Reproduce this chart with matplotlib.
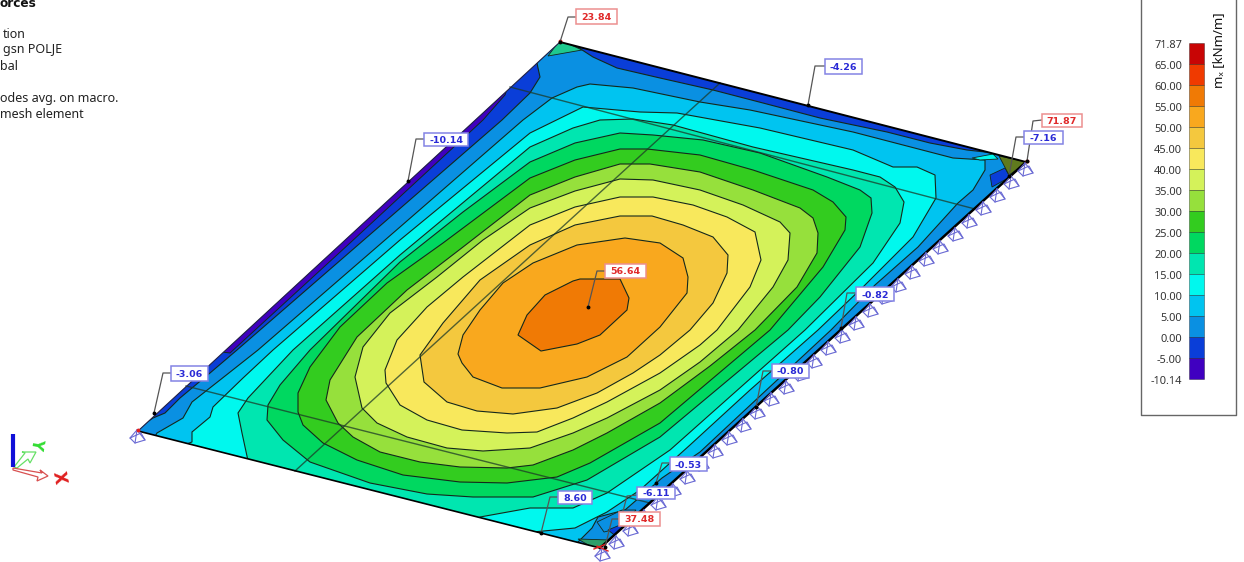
#!/usr/bin/env python3

import matplotlib
matplotlib.use("Agg")
import matplotlib.pyplot as plt
from matplotlib.patches import Polygon, Rectangle

plt.rcParams["font.family"] = ["Noto Sans", "DejaVu Sans"]

# plate outline, picture pixels
plate = [(138, 431), (560, 42), (1026, 162), (600, 548)]

legend_labels = ["71.87", "65.00", "60.00", "55.00", "50.00", "45.00", "40.00", "35.00", "30.00",
                 "25.00", "20.00", "15.00", "10.00", "5.00", "0.00", "-5.00", "-10.14"]
legend_colors = ["#c80505", "#f03a00", "#f07a05", "#f9a81e", "#f4c83e", "#f8e85c", "#d4f25a", "#96e03c",
                 "#33cc1f", "#00d860", "#00e6b0", "#00f8ee", "#00c4f0", "#0a90e2", "#0a3ed8", "#4000c0"]

# contour rings, outermost first (points beyond the plate get clipped)
ring_m5 = [(205, 350), (230, 353), (350, 243), (483, 120), (505, 95), (510, 80), (480, 90)]
ring_0 = [(138, 428), (153, 418), (165, 413), (180, 398), (210, 373), (237, 350), (502, 120), (530, 93), (540, 77),
          (538, 68), (537, 63), (530, 40), (570, 30), (576, 46), (593, 57), (617, 68), (660, 78), (713, 90),
          (763, 103), (820, 118), (887, 132), (930, 143), (967, 150), (985, 152), (1040, 150), (1040, 600),
          (100, 600), (120, 440)]
ring_5 = [(157, 433), (183, 418), (192, 402), (220, 380), (258, 350), (400, 227), (523, 120), (552, 98), (577, 87),
          (590, 84), (633, 88), (700, 102), (750, 110), (853, 132), (953, 158), (985, 160), (985, 170), (973, 190),
          (958, 203), (918, 247), (875, 285), (831, 330), (760, 396), (700, 452), (662, 478), (640, 497),
          (625, 510), (598, 517), (592, 528), (578, 542), (570, 560), (150, 445)]
ring_10 = [(192, 442), (192, 432), (210, 417), (213, 407), (243, 378), (273, 350), (400, 240), (530, 133),
           (583, 107), (640, 112), (677, 113), (760, 128), (853, 150), (893, 167), (917, 167), (935, 175),
           (936, 198), (913, 237), (863, 287), (818, 330), (750, 390), (690, 445), (640, 490), (607, 512),
           (575, 528), (533, 532), (520, 545), (170, 450)]
ring_15 = [(238, 413), (248, 398), (293, 350), (400, 255), (530, 147), (573, 128), (600, 120), (633, 119),
           (673, 125), (753, 147), (853, 170), (880, 177), (895, 187), (904, 202), (900, 223), (873, 263),
           (805, 330), (670, 450), (607, 493), (573, 508), (530, 508), (480, 517), (470, 530), (250, 470),
           (242, 433)]
ring_20 = [(267, 420), (268, 405), (280, 385), (310, 350), (400, 262), (463, 212), (530, 162), (575, 143),
           (620, 133), (653, 135), (703, 140), (760, 153), (827, 177), (860, 190), (871, 198), (872, 213),
           (860, 247), (820, 297), (788, 330), (660, 437), (587, 480), (533, 497), (473, 497), (427, 494),
           (370, 483), (310, 462), (283, 440)]
ring_25 = [(298, 412), (298, 393), (310, 367), (340, 327), (387, 283), (443, 243), (530, 178), (575, 160),
           (620, 149), (647, 149), (700, 155), (753, 170), (813, 190), (833, 202), (846, 217), (845, 230),
           (823, 267), (770, 330), (660, 423), (590, 463), (557, 477), (507, 483), (460, 482), (403, 475),
           (357, 460), (323, 443), (303, 425)]
ring_30 = [(326, 400), (330, 380), (357, 337), (407, 290), (463, 247), (530, 195), (575, 177), (620, 164),
           (650, 164), (700, 172), (753, 190), (800, 208), (813, 218), (818, 233), (817, 253), (797, 287),
           (755, 330), (710, 366), (660, 403), (607, 433), (573, 450), (533, 465), (507, 468), (460, 467),
           (420, 462), (380, 452), (353, 437), (338, 423)]
ring_35 = [(355, 377), (363, 347), (390, 313), (437, 277), (483, 240), (530, 208), (575, 191), (620, 179),
           (653, 180), (700, 190), (743, 205), (780, 222), (790, 233), (788, 260), (773, 287), (738, 330),
           (700, 362), (660, 390), (607, 418), (573, 433), (530, 448), (483, 451), (447, 448), (407, 437),
           (377, 423), (362, 408)]
ring_40 = [(385, 370), (397, 340), (427, 307), (463, 277), (530, 225), (575, 207), (620, 197), (653, 197),
           (693, 205), (727, 217), (755, 232), (761, 260), (750, 287), (717, 330), (700, 345), (660, 373),
           (607, 402), (573, 418), (537, 432), (507, 433), (462, 430), (427, 420), (400, 405), (386, 383)]
ring_45 = [(420, 355), (443, 323), (480, 280), (530, 245), (575, 225), (620, 216), (652, 216), (683, 225),
           (713, 237), (728, 255), (727, 273), (713, 303), (690, 330), (660, 355), (633, 373), (597, 393),
           (557, 408), (513, 414), (477, 411), (447, 402), (424, 382)]
ring_50 = [(458, 354), (463, 335), (480, 310), (503, 283), (533, 263), (577, 245), (625, 238), (660, 243),
           (683, 258), (688, 277), (687, 293), (660, 327), (627, 357), (587, 377), (540, 388), (502, 388),
           (473, 377), (462, 363)]
ring_55 = [(518, 335), (527, 315), (545, 295), (573, 281), (580, 279), (620, 279), (629, 298), (627, 310),
           (600, 335), (577, 344), (541, 351)]

# small patches in the corners
patch_sliver = [(972, 158), (993, 154), (998, 159), (980, 160)]
patch_blue_tr = [(990, 175), (1005, 168), (1010, 177), (992, 187)]
patch_olive_tr = [(999, 156), (1028, 162), (1009, 175)]
patch_teal_top = [(548, 56), (560, 40), (582, 50)]
patch_blue_br = [(608, 530), (620, 525), (630, 526), (617, 537)]
patch_mid_br = [(597, 522), (622, 510), (636, 510), (620, 528), (604, 532)]
patch_teal_br = [(578, 539), (610, 540), (600, 552)]

grid_a = [(510, 87), (975, 209)]
grid_b = [(186, 386), (650, 503)]
grid_c = [(295, 471), (720, 83)]

# supports along the right edge
support_x = [603, 617, 631, 645, 659, 674, 688, 702, 716, 730, 744, 758, 772, 787, 801, 815,
             829, 843, 857, 871, 885, 899, 913, 927, 941, 956, 970, 984, 998, 1012, 1026, 138]
support_y = [555, 543, 530, 517, 504, 491, 478, 465, 452, 439, 426, 413, 400, 388, 375, 362,
             349, 337, 324, 311, 298, 286, 273, 260, 248, 235, 222, 209, 196, 183, 170, 437]

# value labels: text, box left, top, right, bottom, leader points
red = ("#e02a2a", "#ec8f8f")
blue = ("#2a2ad6", "#8484e4")
value_text = ["23.84", "-4.26", "71.87", "-7.16", "-10.14", "-3.06", "56.64", "-0.82", "-0.80", "-0.53", "-6.11",
              "8.60", "37.48"]
value_style = [red, blue, red, blue, blue, blue, red, blue, blue, blue, blue, blue, red]
value_box = [(576, 9, 617, 24), (825, 59, 862, 74), (1042, 114, 1082, 127), (1024, 131, 1063, 144),
             (424, 133, 468, 146), (171, 366, 208, 381), (605, 264, 646, 278), (856, 287, 894, 301),
             (772, 364, 809, 378), (670, 457, 707, 471), (637, 487, 675, 499), (558, 491, 592, 504),
             (619, 512, 660, 526)]
value_leader = [[(576, 17), (568, 17), (560, 42)], [(825, 66), (815, 66), (808, 105)],
                [(1042, 120), (1033, 121), (1027, 161)], [(1024, 137), (1016, 137), (1009, 176)],
                [(424, 139), (416, 139), (408, 181)], [(171, 373), (163, 373), (154, 413)],
                [(605, 271), (597, 271), (588, 307)], [(856, 293), (847, 293), (841, 328)],
                [(772, 371), (763, 371), (756, 407)], [(670, 463), (662, 463), (656, 483)],
                [(637, 495), (627, 496), (620, 523)], [(558, 497), (550, 497), (541, 533)],
                [(619, 519), (612, 519), (605, 547)]]

info_text = ["tion", "gsn POLJE", "bal", "odes avg. on macro.", "mesh element"]
info_x = [3, 3, 0, 0, 0]
info_y = [33, 48, 65, 97, 113]

fig = plt.figure(figsize=(12.44, 5.62), dpi=100)
ax = fig.add_axes([0, 0, 1, 1])
ax.set_xlim(0, 1244)
ax.set_ylim(562, 0)
ax.axis("off")

clip = Polygon(plate, closed=True, transform=ax.transData, fc="none", ec="none")
ax.add_patch(clip)

line_col = "#14281c"

# base of the plate is the -5..0 band
ax.add_patch(Polygon(plate, closed=True, fc=legend_colors[14], ec="none", zorder=1))

bands = [(ring_0, 13), (ring_5, 12), (ring_10, 11), (ring_15, 10), (ring_20, 9), (ring_25, 8), (ring_30, 7),
         (ring_35, 6), (ring_40, 5), (ring_45, 4), (ring_50, 3), (ring_55, 2)]
for ring, c in bands:
    p = ax.add_patch(Polygon(ring, closed=True, fc=legend_colors[c], ec=line_col, lw=0.8, zorder=2))
    p.set_clip_path(clip)

p = ax.add_patch(Polygon(ring_m5, closed=True, fc=legend_colors[15], ec=line_col, lw=0.7, zorder=2))
p.set_clip_path(clip)

patches = [(patch_sliver, legend_colors[11]), (patch_mid_br, legend_colors[13]), (patch_blue_tr, legend_colors[14]),
           (patch_blue_br, legend_colors[14]), (patch_olive_tr, "#5f7a1e"), (patch_teal_top, "#1fc98e"),
           (patch_teal_br, "#2e9e6a")]
for pts, c in patches:
    p = ax.add_patch(Polygon(pts, closed=True, fc=c, ec=line_col, lw=0.6, zorder=3))
    p.set_clip_path(clip)

for g in [grid_a, grid_b, grid_c]:
    ax.plot([g[0][0], g[1][0]], [g[0][1], g[1][1]], color="#1c3a28", lw=1.0, alpha=0.75, zorder=4)

# plate edges
ax.plot([plate[0][0], plate[1][0]], [plate[0][1], plate[1][1]], color="#222244", lw=0.8, zorder=5)
ax.plot([plate[1][0], plate[2][0]], [plate[1][1], plate[2][1]], color="k", lw=1.4, zorder=5)
ax.plot([plate[2][0], plate[3][0]], [plate[2][1], plate[3][1]], color="k", lw=1.8, zorder=5)
ax.plot([plate[3][0], plate[0][0]], [plate[3][1], plate[0][1]], color="k", lw=1.2, zorder=5)

# supports
sup_col = "#6a6ad4"
for sx, sy in zip(support_x, support_y):
    apex = (sx - 1, sy - 7)
    foot = [(sx - 8, sy + 1), (sx - 3, sy + 6), (sx + 7, sy + 3), (sx + 3, sy - 4)]
    ax.add_patch(Polygon(foot, closed=True, fc="none", ec=sup_col, lw=0.8, zorder=6))
    for f in foot[:3]:
        ax.plot([apex[0], f[0]], [apex[1], f[1]], color=sup_col, lw=0.8, zorder=6)

# corner marks at the maxima
ax.plot([597, 608], [546, 551], color="#e02020", lw=1.0, zorder=7)
ax.plot([594, 606], [549, 544], color="#e02020", lw=1.0, zorder=7)
ax.plot([560, 1027, 138], [41, 161, 430], ls="none", marker="o", ms=1.8, color="#e02020", zorder=7)

# leaders and value boxes
for text, style, box, leader in zip(value_text, value_style, value_box, value_leader):
    ax.plot([q[0] for q in leader], [q[1] for q in leader], color="#555555", lw=0.9, zorder=8)
    ax.plot(leader[-1][0], leader[-1][1], marker="o", ms=1.8, color="k", zorder=8)
    ax.add_patch(Rectangle((box[0], box[1]), box[2] - box[0], box[3] - box[1], fc="white", ec=style[1], lw=1.1,
                           zorder=9))
    ax.text((box[0] + box[2]) / 2, (box[1] + box[3]) / 2, text, color=style[0], fontsize=6.8, fontweight="bold",
            family="DejaVu Sans", ha="center", va="center_baseline", zorder=10)

# legend frame and colour bar
ax.plot([1141, 1141, 1236, 1236], [0, 415, 415, 0], color="#666666", lw=1.0)
step = 21.0
for i, c in enumerate(legend_colors):
    ax.add_patch(Rectangle((1189, 43 + i * step), 15, step, fc=c, ec="#00000055", lw=0.7))
for i, s in enumerate(legend_labels):
    ax.text(1182, 44 + i * step, s, color="#333333", fontsize=7.9, ha="right", va="center_baseline")
ax.text(1219, 50, "mₓ [kNm/m]", color="#111111", fontsize=9.5, rotation=90, ha="center", va="center")

# info text, cut by the picture border
ax.text(0, 2, "orces", color="#111111", fontsize=8.7, fontweight="bold", family="DejaVu Sans", ha="left",
        va="center_baseline")
for s, x, y in zip(info_text, info_x, info_y):
    ax.text(x, y, s, color="#222222", fontsize=9.0, ha="left", va="center_baseline")

# axis triad
ax.plot([13, 13], [467, 434], color="#1010d8", lw=3, solid_capstyle="butt", zorder=3)
ax.add_patch(Polygon([(14, 467), (25, 453), (22, 452), (36, 452), (30, 463), (28, 459), (17, 468)], closed=True,
                     fc="none", ec="#66e066", lw=0.9))
ax.add_patch(Polygon([(13, 468), (42, 473), (40, 470), (48, 476), (37, 481), (38, 477), (13, 470)], closed=True,
                     fc="none", ec="#d85050", lw=0.9))
ax.text(37, 443, "Y", color="#33dd33", fontsize=11, fontweight="bold", family="DejaVu Sans", rotation=-100,
        ha="center", va="center")
ax.text(59, 477, "X", color="#e02020", fontsize=12, fontweight="bold", family="DejaVu Sans", rotation=-80,
        ha="center", va="center")

fig.savefig("out.png", dpi=100)
plt.close(fig)
